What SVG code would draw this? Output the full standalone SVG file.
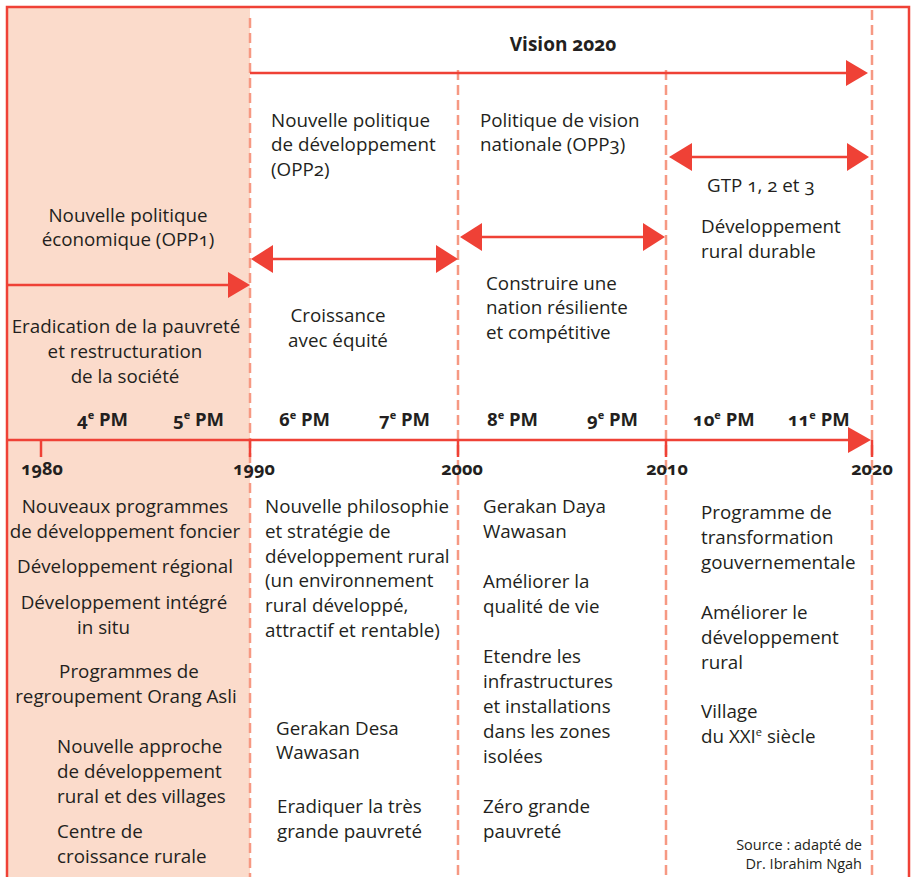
<svg xmlns="http://www.w3.org/2000/svg" width="911" height="877" viewBox="0 0 911 877">
<defs>
<style>
text{font-family:"Open Sans","Noto Sans","Liberation Sans",sans-serif;font-size:18.8px;fill:#231f20;font-feature-settings:"onum"}
.b{font-weight:bold;font-size:19px}
.c{text-anchor:middle}
.r{text-anchor:end}
.pm{font-weight:bold;font-size:18.5px}
.yr{font-weight:bold;font-size:18px;text-anchor:middle}
.src{font-size:14.5px;text-anchor:end}
.red{stroke:#ef4136;stroke-width:2.5;fill:none}
.dash{stroke:#f69983;stroke-width:2.5;stroke-dasharray:10 5;fill:none}
.head{fill:#ef4136}
</style>
</defs>
<rect x="7" y="7" width="243" height="870" fill="#fbdbcb"/>
<g id="frame">
<path class="red" d="M7 877 V7 H909 V877"/>
</g>
<g id="gridlines">
<line class="dash" x1="250" y1="18" x2="250" y2="877"/>
<line class="dash" x1="458" y1="70" x2="458" y2="877"/>
<line class="dash" x1="666" y1="70" x2="666" y2="877"/>
<line class="dash" x1="872" y1="10" x2="872" y2="877"/>
</g>
<g id="connectors">
<line class="red" x1="250" y1="73" x2="848" y2="73"/>
<polygon class="head" points="868,73 846,60 846,86"/>
<line class="red" x1="7" y1="285" x2="230" y2="285"/>
<polygon class="head" points="250,285 228,272 228,298"/>
<line class="red" x1="270" y1="259" x2="440" y2="259"/>
<polygon class="head" points="251,259 273,245 273,273"/>
<polygon class="head" points="458,259 436,245 436,273"/>
<line class="red" x1="480" y1="237" x2="645" y2="237"/>
<polygon class="head" points="460,237 482,223 482,251"/>
<polygon class="head" points="665,237 643,223 643,251"/>
<line class="red" x1="690" y1="157" x2="850" y2="157"/>
<polygon class="head" points="669,157 692,143 692,171"/>
<polygon class="head" points="869,157 847,143 847,171"/>
<line class="red" x1="7" y1="440" x2="850" y2="440" stroke-width="3"/>
<polygon class="head" points="871,440 848,427 848,453"/>
<g class="red" stroke-width="3">
<line x1="41" y1="440" x2="41" y2="457"/>
<line x1="250" y1="440" x2="250" y2="457"/>
<line x1="458" y1="440" x2="458" y2="457"/>
<line x1="666" y1="440" x2="666" y2="457"/>
<line x1="872" y1="440" x2="872" y2="457"/>
</g>
</g>
<g id="vision"><text class="b c" x="563" y="51">Vision 2020</text></g>
<g id="opp1">
<text class="c" x="128" y="222">Nouvelle politique</text>
<text class="c" x="128" y="246">économique (OPP1)</text>
</g>
<g id="opp1-goal">
<text class="c" x="126" y="333">Eradication de la pauvreté</text>
<text class="c" x="125" y="358">et restructuration</text>
<text class="c" x="125" y="383">de la société</text>
</g>
<g id="opp2">
<text x="271" y="127">Nouvelle politique</text>
<text x="271" y="151">de développement</text>
<text x="271" y="176">(OPP2)</text>
</g>
<g id="opp2-goal">
<text class="c" x="338" y="322">Croissance</text>
<text class="c" x="338" y="347">avec équité</text>
</g>
<g id="opp3">
<text x="480" y="127">Politique de vision</text>
<text x="480" y="151">nationale (OPP3)</text>
</g>
<g id="opp3-goal">
<text x="486" y="290">Construire une</text>
<text x="486" y="314">nation résiliente</text>
<text x="486" y="339">et compétitive</text>
</g>
<g id="gtp">
<text x="707" y="192">GTP 1, 2 et 3</text>
</g>
<g id="gtp-goal">
<text x="701" y="233">Développement</text>
<text x="701" y="258">rural durable</text>
</g>
<g id="pm">
<text class="pm" x="77" y="426">4<tspan font-size="11" dy="-7">e</tspan><tspan dy="7"> PM</tspan></text>
<text class="pm" x="173" y="426">5<tspan font-size="11" dy="-7">e</tspan><tspan dy="7"> PM</tspan></text>
<text class="pm" x="279" y="426">6<tspan font-size="11" dy="-7">e</tspan><tspan dy="7"> PM</tspan></text>
<text class="pm" x="379" y="426">7<tspan font-size="11" dy="-7">e</tspan><tspan dy="7"> PM</tspan></text>
<text class="pm" x="487" y="426">8<tspan font-size="11" dy="-7">e</tspan><tspan dy="7"> PM</tspan></text>
<text class="pm" x="587" y="426">9<tspan font-size="11" dy="-7">e</tspan><tspan dy="7"> PM</tspan></text>
<text class="pm" x="693" y="426">10<tspan font-size="11" dy="-7">e</tspan><tspan dy="7"> PM</tspan></text>
<text class="pm" x="788" y="426">11<tspan font-size="11" dy="-7">e</tspan><tspan dy="7"> PM</tspan></text>
</g>
<g id="years">
<text class="yr" x="42" y="475">1980</text>
<text class="yr" x="254" y="475">1990</text>
<text class="yr" x="462" y="475">2000</text>
<text class="yr" x="667" y="475">2010</text>
<text class="yr" x="872" y="475">2020</text>
</g>
<g id="col1">
<text class="c" x="125" y="513">Nouveaux programmes</text>
<text class="c" x="125" y="538">de développement foncier</text>
<text class="c" x="125" y="573">Développement régional</text>
<text class="c" x="124" y="609">Développement intégré</text>
<text x="77" y="634">in situ</text>
<text class="c" x="129" y="678">Programmes de</text>
<text class="c" x="126" y="703">regroupement Orang Asli</text>
<text x="57" y="753">Nouvelle approche</text>
<text x="57" y="778">de développement</text>
<text x="57" y="803">rural et des villages</text>
<text x="57" y="838">Centre de</text>
<text x="57" y="863">croissance rurale</text>
</g>
<g id="col2">
<text x="265" y="513">Nouvelle philosophie</text>
<text x="265" y="538">et stratégie de</text>
<text x="265" y="563">développement rural</text>
<text x="265" y="587">(un environnement</text>
<text x="265" y="612">rural développé,</text>
<text x="265" y="637">attractif et rentable)</text>
<text x="276" y="735">Gerakan Desa</text>
<text x="276" y="759">Wawasan</text>
<text x="277" y="813">Eradiquer la très</text>
<text x="277" y="838">grande pauvreté</text>
</g>
<g id="col3">
<text x="483" y="513">Gerakan Daya</text>
<text x="483" y="538">Wawasan</text>
<text x="483" y="588">Améliorer la</text>
<text x="483" y="613">qualité de vie</text>
<text x="483" y="663">Etendre les</text>
<text x="483" y="688">infrastructures</text>
<text x="483" y="713">et installations</text>
<text x="483" y="738">dans les zones</text>
<text x="483" y="763">isolées</text>
<text x="483" y="813">Zéro grande</text>
<text x="483" y="838">pauvreté</text>
</g>
<g id="col4">
<text x="701" y="519">Programme de</text>
<text x="701" y="544">transformation</text>
<text x="701" y="569">gouvernementale</text>
<text x="701" y="619">Améliorer le</text>
<text x="701" y="644">développement</text>
<text x="701" y="669">rural</text>
<text x="701" y="718">Village</text>
<text x="701" y="743">du XXI<tspan font-size="11" dy="-7">e</tspan><tspan dy="7"> siècle</tspan></text>
</g>
<g id="source">
<text class="src" x="862" y="850">Source : adapté de</text>
<text class="src" x="862" y="869">Dr. Ibrahim Ngah</text>
</g>
</svg>
